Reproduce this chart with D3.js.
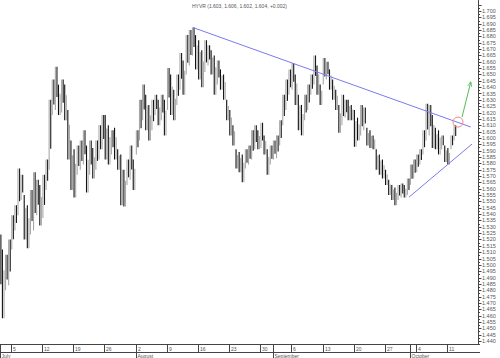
<!DOCTYPE html>
<html>
<head>
<meta charset="utf-8">
<script src="https://cdn.jsdelivr.net/npm/d3@7/dist/d3.min.js"></script>
<style>
  body { margin: 0; background: #fff; }
  text { font-family: "Liberation Sans", Arial, sans-serif; fill: #555; }
</style>
</head>
<body>
<div id="chart"></div>
<script>
// half-day slots, 1 Jul 2004 .. 12 Oct 2004
const hi = [1.524,1.512,1.508,1.520,1.539,1.547,1.576,1.571,1.555,1.547,
  1.559,1.573,1.567,1.563,1.571,1.583,1.630,1.646,1.656,1.642,
  1.646,1.642,1.622,1.598,1.591,1.594,1.598,1.606,1.594,1.598,
  1.592,1.598,1.610,1.618,1.618,1.610,1.606,1.608,1.591,1.587,
  1.575,1.583,1.594,1.583,1.606,1.630,1.642,1.634,1.626,1.630,
  1.634,1.630,1.634,1.630,1.655,1.650,1.638,1.650,1.667,1.661,
  1.681,1.685,1.687,1.681,1.677,1.669,1.677,1.673,1.669,1.665,
  1.661,1.654,1.650,1.630,1.622,1.610,1.591,1.589,1.587,1.591,
  1.594,1.606,1.610,1.606,1.612,1.602,1.591,1.594,1.598,1.602,
  1.614,1.634,1.646,1.654,1.659,1.650,1.634,1.626,1.634,1.642,
  1.650,1.665,1.657,1.642,1.663,1.660,1.654,1.646,1.638,1.626,
  1.634,1.630,1.630,1.626,1.622,1.616,1.626,1.624,1.608,1.606,
  1.602,1.591,1.587,1.583,1.575,1.567,1.563,1.561,1.563,1.564,
  1.563,1.568,1.579,1.583,1.587,1.591,1.606,1.627,1.626,1.618,
  1.608,1.606,1.602,1.594,1.592,1.602,1.610];
const lo = [1.468,1.458,1.480,1.484,1.512,1.527,1.539,1.551,1.520,1.513,
  1.524,1.527,1.539,1.531,1.537,1.559,1.575,1.618,1.622,1.618,
  1.620,1.614,1.583,1.559,1.553,1.571,1.575,1.579,1.557,1.571,
  1.568,1.575,1.583,1.591,1.583,1.579,1.587,1.583,1.575,1.547,
  1.546,1.563,1.567,1.559,1.587,1.598,1.614,1.606,1.598,1.606,
  1.618,1.610,1.614,1.602,1.622,1.618,1.614,1.626,1.638,1.634,
  1.650,1.657,1.665,1.654,1.646,1.640,1.652,1.657,1.650,1.634,
  1.642,1.638,1.630,1.614,1.602,1.594,1.576,1.573,1.565,1.576,
  1.579,1.583,1.591,1.591,1.592,1.587,1.571,1.579,1.583,1.584,
  1.594,1.610,1.622,1.634,1.638,1.626,1.606,1.602,1.614,1.622,
  1.634,1.642,1.634,1.626,1.642,1.646,1.638,1.630,1.622,1.604,
  1.610,1.616,1.614,1.614,1.593,1.598,1.602,1.606,1.594,1.592,
  1.591,1.575,1.571,1.568,1.563,1.555,1.551,1.547,1.551,1.553,
  1.553,1.555,1.563,1.568,1.573,1.579,1.587,1.598,1.602,1.592,
  1.591,1.587,1.591,1.581,1.579,1.591,1.598];

// week ticks (trading-day index) and labels
const weekDays = [2,7,12,17,22,27,32,37,42,47,52,57,62,67,72];
const weekLabels = ["5","12","19","26","2","9","16","23","30","6","13","20","27","4","11"];
const monthDays = [0,22,44,66];
const monthLabels = ["July","August","September","October"];
const yTicks = d3.range(1.440, 1.7001, 0.005);

// drawn studies: [day, price]
const upperTrend = [[31.2,1.687],[75.8,1.6086]];
const lowerTrend = [[65.9,1.5534],[76.0,1.5952]];
const ring = [73.75,1.6125];
const arrow = [[74.4,1.6165],[75.8,1.644]];
const title = "HYVR (1.603, 1.606, 1.602, 1.604, +0.002)";

const W = 500, H = 358;
const axisX = 478, axisY = 344, axisY2 = 352;

const svg = d3.select("#chart").append("svg")
  .attr("width", W).attr("height", H);

const x = d3.scaleLinear().domain([0, 77]).range([-1.46, 478.25]);
const y = d3.scaleLinear().domain([1.440, 1.700]).range([341, 11]);

svg.append("defs").append("marker")
  .attr("id", "ah").attr("viewBox", "0 0 10 10")
  .attr("refX", 9).attr("refY", 5)
  .attr("markerWidth", 5).attr("markerHeight", 5)
  .attr("orient", "auto")
  .append("path").attr("d", "M0,1L10,5L0,9").attr("fill", "none")
  .attr("stroke", "#55bb55").attr("stroke-width", 1.5);

// price bars: two strokes per slot, dark one follows direction
const g = svg.append("g");
hi.forEach((h, i) => {
  const cx = x(i / 2 + 0.25);
  const mid = (h + lo[i]) / 2;
  const prev = i > 0 ? (hi[i-1] + lo[i-1]) / 2 : mid;
  const down = mid < prev;
  const r = h - lo[i];
  g.append("line")
    .attr("x1", cx - 0.8).attr("x2", cx - 0.8)
    .attr("y1", y(h)).attr("y2", y(lo[i]))
    .attr("stroke", down ? "#111" : "#a8a8a8").attr("stroke-width", 1.1);
  g.append("line")
    .attr("x1", cx + 0.8).attr("x2", cx + 0.8)
    .attr("y1", y(down ? h - r * 0.3 : h)).attr("y2", y(down ? lo[i] : lo[i] + r * 0.3))
    .attr("stroke", down ? "#a8a8a8" : "#1a1a1a").attr("stroke-width", 1.1);
});

// studies
const ln = d3.line().x(d => x(d[0])).y(d => y(d[1]));
svg.append("path").attr("d", ln(upperTrend))
  .attr("stroke", "#7a7aee").attr("fill", "none").attr("stroke-width", 1);
svg.append("path").attr("d", ln(lowerTrend))
  .attr("stroke", "#7a7aee").attr("fill", "none").attr("stroke-width", 1);
svg.append("circle").attr("cx", x(ring[0])).attr("cy", y(ring[1])).attr("r", 5)
  .attr("fill", "none").attr("stroke", "#f08a8a").attr("stroke-width", 1);
svg.append("path").attr("d", ln(arrow))
  .attr("stroke", "#55bb55").attr("fill", "none").attr("stroke-width", 1)
  .attr("marker-end", "url(#ah)");

// title
svg.append("text").attr("x", 192).attr("y", 7.5)
  .attr("font-size", 5.5).attr("textLength", 95).attr("lengthAdjust", "spacingAndGlyphs")
  .text(title);

// y axis on the right
const ax = svg.append("g").attr("stroke", "#444").attr("stroke-width", 1);
ax.append("line").attr("x1", axisX + 0.5).attr("x2", axisX + 0.5).attr("y1", 0).attr("y2", axisY);
d3.range(1.440, 1.7051, 0.0025).forEach((v, k) => {
  const yy = Math.round(y(v)) + 0.5;
  ax.append("line").attr("x1", axisX).attr("x2", axisX + (k % 2 === 0 ? 3.5 : 2))
    .attr("y1", yy).attr("y2", yy);
});
svg.append("g").selectAll("text").data(yTicks).join("text")
  .attr("x", 482).attr("y", d => y(d) + 2)
  .attr("font-size", 5.5)
  .text(d => d3.format(".3f")(d));

// x axis
ax.append("line").attr("x1", 0).attr("x2", axisX + 2).attr("y1", axisY + 0.5).attr("y2", axisY + 0.5);
ax.append("line").attr("x1", 0).attr("x2", axisX + 2).attr("y1", axisY2 + 0.5).attr("y2", axisY2 + 0.5);
weekDays.forEach((d, k) => {
  const xx = Math.round(x(d)) + 0.5;
  ax.append("line").attr("x1", xx).attr("x2", xx).attr("y1", axisY).attr("y2", axisY2);
  svg.append("text").attr("x", xx + 1.5).attr("y", axisY + 6.5)
    .attr("font-size", 5).text(weekLabels[k]);
});
monthDays.forEach((d, k) => {
  const xx = Math.max(0, Math.round(x(d))) + 0.5;
  ax.append("line").attr("x1", xx).attr("x2", xx).attr("y1", axisY).attr("y2", H);
  svg.append("text").attr("x", xx + 1).attr("y", axisY2 + 5.5)
    .attr("font-size", 5).text(monthLabels[k]);
});
</script>
</body>
</html>
